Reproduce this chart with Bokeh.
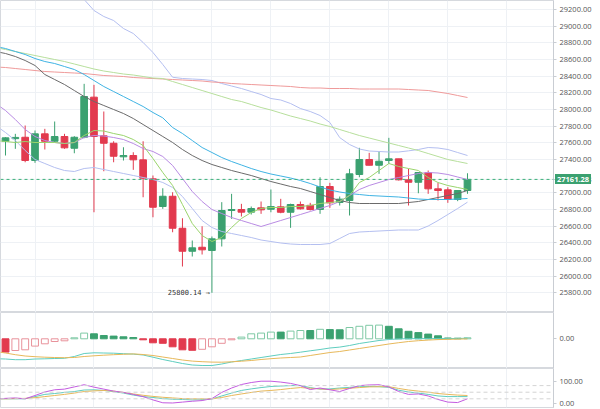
import numpy as np
from bokeh.plotting import figure
from bokeh.layouts import column
from bokeh.models import Range1d, FixedTicker, NumeralTickFormatter, Span, ColumnDataSource, Div
from bokeh.core.properties import value
from bokeh.embed import file_html
from bokeh.resources import INLINE

# ---------------- data ----------------
candle_idx = list(range(48))
opens = [27619, 27650, 27667, 27388, 27708, 27619, 27676, 27535, 27667, 28148,
         27684, 27595, 27432, 27448, 27396, 27168, 26836, 26959, 26575, 26299,
         26347, 26308, 26448, 26788, 26800, 26768, 26820, 26803, 26832, 26767,
         26860, 26850, 26800, 27076, 26884, 26908, 27220, 27400, 27331, 27388,
         27408, 27156, 27127, 27240, 27048, 27036, 26920, 27028]
highs = [27667, 27708, 27808, 27748, 27768, 27856, 27708, 27680, 28308, 28296,
         27976, 27619, 27547, 27487, 27619, 27208, 27055, 27007, 26695, 26428,
         26599, 26476, 26888, 26988, 26868, 26836, 26896, 27040, 26928, 26870,
         26896, 26880, 27187, 27120, 26956, 27288, 27540, 27480, 27499, 27660,
         27408, 27288, 27247, 27268, 27120, 27067, 27028, 27235]
lows = [27448, 27528, 27367, 27360, 27520, 27612, 27528, 27475, 27655, 26767,
        27259, 27367, 27388, 27276, 26947, 26707, 26808, 26527, 26116, 26236,
        26260, 25800.14, 26356, 26688, 26716, 26740, 26748, 26767, 26755, 26580,
        26800, 26788, 26748, 26820, 26848, 26728, 27187, 27331, 27228, 27348,
        27148, 26848, 26995, 26988, 26908, 26880, 26900, 26988]
closes = [27660, 27665, 27388, 27708, 27619, 27676, 27540, 27667, 28156, 27676,
          27595, 27439, 27448, 27396, 27175, 26827, 26959, 26575, 26299, 26340,
          26316, 26448, 26788, 26800, 26768, 26812, 26796, 26835, 26767, 26860,
          26808, 26800, 27076, 26880, 26924, 27228, 27400, 27331, 27379, 27408,
          27156, 27127, 27244, 27048, 27028, 26920, 27028, 27161.28]

line_idx = list(range(-1, 48))
ma_short = [27628, 27616, 27604, 27616, 27604, 27604, 27604, 27592, 27604, 27688,
            27748, 27742, 27712, 27688, 27640, 27568, 27412, 27244, 27088, 26860,
            26632, 26488, 26416, 26464, 26584, 26692, 26764, 26812, 26824, 26824,
            26836, 26836, 26848, 26872, 26884, 26896, 26968, 27124, 27184, 27268,
            27352, 27316, 27292, 27268, 27184, 27124, 27088, 27064, 27040]
ma_mid = [28072, 27988, 27880, 27760, 27676, 27628, 27604, 27592, 27604, 27664,
          27688, 27682, 27664, 27640, 27592, 27532, 27496, 27436, 27328, 27172,
          27016, 26896, 26800, 26752, 26704, 26668, 26632, 26596, 26632, 26668,
          26704, 26740, 26776, 26812, 26848, 26896, 26968, 27040, 27088, 27124,
          27160, 27184, 27208, 27232, 27244, 27238, 27220, 27190, 27160]
ma_cyan = [28756, 28732, 28696, 28660, 28612, 28576, 28552, 28516, 28480, 28420,
           28348, 28276, 28216, 28156, 28096, 28036, 27964, 27900, 27784, 27712,
           27628, 27544, 27484, 27424, 27376, 27334, 27292, 27256, 27226, 27202,
           27178, 27148, 27112, 27070, 27034, 27010, 26992, 26980, 26968, 26962,
           26956, 26950, 26938, 26926, 26920, 26920, 26920, 26926, 26932]
ma_gray = [28696, 28672, 28636, 28588, 28528, 28420, 28360, 28300, 28228, 28156,
           28096, 28048, 28000, 27952, 27892, 27820, 27748, 27676, 27604, 27520,
           27448, 27388, 27340, 27304, 27268, 27238, 27208, 27172, 27136, 27106,
           27076, 27052, 27016, 26980, 26944, 26908, 26884, 26872, 26872, 26872,
           26872, 26872, 26884, 26896, 26920, 26944, 26968, 26992, 27028]
ma_long_green = [28744, 28720, 28696, 28672, 28648, 28624, 28600, 28576, 28546, 28516,
                 28486, 28462, 28444, 28426, 28414, 28396, 28378, 28372, 28336, 28300,
                 28264, 28228, 28192, 28156, 28120, 28096, 28060, 28024, 27994, 27958,
                 27922, 27892, 27862, 27826, 27796, 27760, 27724, 27688, 27658, 27628,
                 27598, 27568, 27538, 27508, 27472, 27436, 27400, 27376, 27352]
ma_long_red = [28510, 28504, 28492, 28480, 28468, 28456, 28450, 28444, 28438, 28432,
               28420, 28408, 28402, 28396, 28384, 28378, 28372, 28366, 28360, 28354,
               28348, 28342, 28330, 28324, 28312, 28306, 28300, 28294, 28288, 28282,
               28276, 28264, 28258, 28258, 28252, 28252, 28252, 28246, 28246, 28246,
               28246, 28246, 28240, 28234, 28228, 28210, 28192, 28168, 28144]
bb_upper = [30300, 30200, 30100, 29980, 29860, 29740, 29620, 29500, 29410, 29320,
            29188, 29116, 29068, 28972, 28912, 28804, 28684, 28540, 28387, 28372,
            28366, 28360, 28348, 28312, 28282, 28252, 28216, 28180, 28132, 28114,
            28072, 28012, 27976, 27928, 27844, 27663, 27580, 27526, 27502, 27496,
            27490, 27490, 27504, 27520, 27544, 27538, 27520, 27484, 27448]
bb_lower = [27808, 27724, 27628, 27508, 27400, 27352, 27304, 27268, 27256, 27292,
            27304, 27280, 27256, 27232, 27208, 27184, 27160, 27124, 27064, 26956,
            26812, 26668, 26584, 26536, 26512, 26488, 26464, 26434, 26416, 26398,
            26386, 26380, 26380, 26380, 26392, 26452, 26512, 26530, 26536, 26542,
            26548, 26554, 26554, 26554, 26602, 26668, 26740, 26812, 26888]

macd_dif = [-199, -202, -209, -209, -202, -200, -197, -195, -177, -147,
            -140, -142, -144, -149, -153, -162, -184, -207, -227, -247,
            -262, -267, -267, -252, -232, -217, -202, -187, -172, -157,
            -147, -134, -120, -107, -92, -83, -67, -47, -32, -17,
            -7, -1, 1, 2, 2, 2, 3, 3, 6]
macd_dea = [-127, -142, -159, -172, -179, -184, -187, -189, -187, -177,
            -170, -164, -159, -155, -151, -157, -167, -182, -197, -212,
            -223, -229, -233, -234, -230, -224, -217, -207, -199, -192,
            -187, -182, -167, -152, -137, -127, -112, -97, -82, -67,
            -52, -39, -27, -19, -13, -8, -5, -3, -1]
macd_hist = [-133, -117, -110, -73, -50, -27, -20, 10, 57, 50,
             33, 27, 20, 13, -10, -40, -45, -80, -110, -115,
             -105, -80, -45, -10, 17, 50, 57, 67, 67, 77,
             83, 83, 95, 92, 90, 113, 125, 135, 137, 125,
             100, 75, 62, 47, 30, 8, 6, 10]

kdj_k = [20, 20, 20, 20, 30, 40, 44, 49, 53, 60,
         61, 58, 53, 46, 37, 30, 26, 21, 18, 17,
         15, 16, 19, 33, 46, 58, 65, 71, 76, 78,
         80, 80, 71, 64, 65, 69, 72, 75, 76, 75,
         72, 59, 51, 46, 40, 33, 30, 30, 30]
kdj_d = [20, 20, 21, 22, 25, 30, 35, 40, 46, 53,
         56, 58, 55, 49, 42, 36, 31, 27, 24, 21,
         20, 20, 20, 26, 35, 42, 49, 55, 58, 62,
         67, 71, 68, 65, 62, 65, 68, 71, 74, 75,
         75, 67, 60, 55, 50, 44, 40, 37, 35]
kdj_j = [19, 22, 24, 20, 35, 51, 61, 64, 74, 84,
         73, 64, 55, 49, 40, 30, 15, 2, 1, 5,
         9, 12, 21, 49, 69, 85, 94, 100, 100, 96,
         90, 80, 62, 69, 61, 53, 67, 80, 83, 84,
         74, 53, 40, 42, 33, 17, 5, 3, 20]

price_ticks = [25800, 26000, 26200, 26400, 26600, 26800, 27000, 27400, 27600,
               27800, 28000, 28200, 28400, 28600, 28800, 29000, 29200]
macd_ticks = [0]
kdj_ticks = [0, 100]
kdj_levels = [20, 50, 80]

# ---------------- style ----------------
GREEN = "#3ba170"
RED = "#e23a4e"
GREEN_HOLLOW = "#7fc9a5"
RED_HOLLOW = "#e8929b"
W = 600
FRAME_W = 553
MAIN_H = 312
vgrid = [3, 9, 15, 21, 27, 33, 39, 45, 51]

x_range = Range1d(-0.51, 55.75)


def make_fig(h, y0, y1, ticks, bottom=0):
    p = figure(width=W, height=h, x_range=x_range, y_range=Range1d(y0, y1),
               output_backend="svg", toolbar_location=None, y_axis_location="right",
               min_border_left=0, min_border_top=0, min_border_bottom=bottom,
               min_border_right=W - FRAME_W)
    p.xaxis.visible = False
    p.xgrid.ticker = FixedTicker(ticks=vgrid)
    p.grid.grid_line_color = "#eef1f5"
    p.outline_line_color = "#d6d9de"
    ax = p.yaxis[0]
    ax.ticker = FixedTicker(ticks=ticks)
    ax.formatter = NumeralTickFormatter(format="0.00")
    ax.axis_line_color = "#c9cdd3"
    ax.major_tick_line_color = "#c9cdd3"
    ax.major_tick_out = 3
    ax.major_tick_in = 0
    ax.minor_tick_line_color = None
    ax.major_label_text_font = "Open Sans"
    ax.major_label_text_font_size = "7.5px"
    ax.major_label_text_color = "#555555"
    ax.major_label_standoff = 3
    return p


# ---------------- main price panel ----------------
last = closes[-1]
p = make_fig(MAIN_H, 25564, 29308, price_ticks + [last])

cs = ColumnDataSource(dict(
    x=candle_idx, o=opens, h=highs, l=lows, c=closes,
    top=[max(a, b) for a, b in zip(opens, closes)],
    bot=[min(a, b) for a, b in zip(opens, closes)],
    col=[GREEN if c >= o else RED for o, c in zip(opens, closes)],
))
p.segment(x0="x", y0="h", x1="x", y1="l", line_color="col", line_width=1, source=cs)
p.vbar(x="x", width=0.68, top="top", bottom="bot", fill_color="col", line_color="col", source=cs)

lines = [
    (bb_upper, "#b4bff0"), (bb_lower, "#b4bff0"), (ma_long_red, "#ef9a9a"),
    (ma_long_green, "#b7df9c"), (ma_gray, "#6b6b6b"), (ma_cyan, "#3fb3e3"),
    (ma_mid, "#b98be3"), (ma_short, "#9ad46c"),
]
for ys, colr in lines:
    p.line(line_idx, ys, line_color=colr, line_width=1)

p.add_layout(Span(location=last, dimension="width", line_color="#3bb07a",
                  line_dash="3 3", line_width=1))

# price tag floating over the axis, next to the last close
try:
    yr = p.y_range
    y_px = (yr.end - last) / (yr.end - yr.start) * MAIN_H
    tag = Div(text=f"{last:.2f}", styles={
        "position": "absolute", "left": f"{FRAME_W + 2}px", "top": f"{y_px - 5:.1f}px",
        "background-color": GREEN, "color": "white", "font-family": "'Open Sans'",
        "font-size": "7.5px", "font-weight": "bold", "line-height": "10px",
        "padding": "0px 2px", "z-index": "10", "white-space": "nowrap"})
    p.elements = [tag]
except Exception:
    pass

lo_i = int(np.argmin(lows))
p.text(x=[candle_idx[lo_i]], y=[lows[lo_i]], text=[f"{lows[lo_i]:.2f} \u2192"],
       text_font=value("DejaVu Sans Mono"), text_font_size="7px", text_color="#333333",
       text_align="right", text_baseline="middle", x_offset=-2)

# ---------------- MACD panel ----------------
pm = make_fig(56, -297, 263, macd_ticks)
pm.ygrid.grid_line_color = None
fill, outline = [], []
prev = 0
for hv in macd_hist:
    if hv >= 0:
        solid = hv <= prev
        outline.append(GREEN if solid else GREEN_HOLLOW)
        fill.append(GREEN if solid else None)
    else:
        solid = hv < prev
        outline.append(RED if solid else RED_HOLLOW)
        fill.append(RED if solid else None)
    prev = hv
ms = ColumnDataSource(dict(x=candle_idx, top=macd_hist, fill=[f if f else "white" for f in fill],
                           falpha=[1 if f else 0 for f in fill], line=outline))
pm.vbar(x="x", width=0.7, top="top", bottom=0, fill_color="fill", fill_alpha="falpha",
        line_color="line", source=ms)
pm.line(line_idx, macd_dif, line_color="#5fcdbf", line_width=1)
pm.line(line_idx, macd_dea, line_color="#e7b85a", line_width=1)

# ---------------- KDJ panel ----------------
pk = make_fig(41, -19.5, 157.7, kdj_ticks, bottom=2)
pk.ygrid.grid_line_color = None
for lv in kdj_levels:
    pk.add_layout(Span(location=lv, dimension="width", line_color="#d4d4d4",
                       line_dash="4 3", line_width=1))
pk.line(line_idx, kdj_k, line_color="#5fcdbf", line_width=1)
pk.line(line_idx, kdj_d, line_color="#e7b85a", line_width=1)
pk.line(line_idx, kdj_j, line_color="#c35be0", line_width=1)

layout = column(p, pm, pk, spacing=0)
open("out.html", "w").write(file_html(layout, INLINE))
